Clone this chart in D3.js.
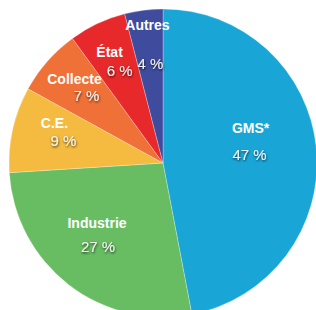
<!DOCTYPE html>
<html>
<head>
<meta charset="utf-8">
<script src="https://cdn.jsdelivr.net/npm/d3@7"></script>
<style>
  html, body { margin: 0; padding: 0; background: #fff; overflow: hidden; }
  svg { display: block; }
  .name { font-family: "Liberation Sans", Arial, sans-serif; font-weight: bold; font-size: 14px; fill: #fff; }
  .pct { font-family: "Liberation Sans", Arial, sans-serif; font-size: 15px; fill: #f2f2f2; }
</style>
</head>
<body>
<div id="chart"></div>
<script>
// Répartition (%)
const categories = ['GMS*', 'Industrie', 'C.E.', 'Collecte', 'État', 'Autres'];
const values = [47, 27, 9, 7, 6, 4];
const colors = ['#19a6d7', '#68bd63', '#f4bb40', '#f07137', '#e8292b', '#3f4c9e'];

const width = 316, height = 310;
const cx = 163, cy = 163, radius = 154;

// label placement: radius for the percentage, offset of the name line
const labelLayout = {
  'GMS*':      { r: 87,  nameDx: 1,   nameDy: -27 },
  'Industrie': { r: 106, nameDx: -1,  nameDy: -24 },
  'C.E.':      { r: 102, nameDx: -9,  nameDy: -18 },
  'Collecte':  { r: 102, nameDx: -12, nameDy: -17 },
  'État':      { r: 102, nameDx: -10, nameDy: -19 },
  'Autres':    { r: 100, nameDx: -3,  nameDy: -39 }
};

const data = categories.map((c, i) => ({ name: c, value: values[i], color: colors[i] }));

const svg = d3.select('#chart').append('svg')
  .attr('width', width)
  .attr('height', height);

const defs = svg.append('defs');
const shadow = defs.append('filter').attr('id', 'txtShadow')
  .attr('x', '-20%').attr('y', '-30%').attr('width', '140%').attr('height', '160%');
shadow.append('feDropShadow')
  .attr('dx', 0.5).attr('dy', 1.2).attr('stdDeviation', 0.9)
  .attr('flood-color', '#000').attr('flood-opacity', 0.75);

const g = svg.append('g').attr('transform', `translate(${cx},${cy})`);

const pie = d3.pie().value(d => d.value).sort(null);
const arc = d3.arc().innerRadius(0).outerRadius(radius);
const arcs = pie(data);

g.selectAll('path.slice')
  .data(arcs)
  .join('path')
  .attr('class', 'slice')
  .attr('d', arc)
  .attr('fill', d => d.data.color)
  .attr('stroke', 'rgba(255,255,255,0.45)')
  .attr('stroke-width', 0.6);

const labels = g.selectAll('g.label')
  .data(arcs)
  .join('g')
  .attr('class', 'label')
  .attr('transform', d => {
    const lay = labelLayout[d.data.name];
    const p = d3.arc().innerRadius(lay.r).outerRadius(lay.r).centroid(d);
    return `translate(${p[0]},${p[1]})`;
  });

labels.append('text')
  .attr('class', 'pct')
  .attr('text-anchor', 'middle')
  .attr('dy', '0.36em')
  .attr('filter', 'url(#txtShadow)')
  .text(d => `${d.data.value} %`);

labels.append('text')
  .attr('class', 'name')
  .attr('text-anchor', 'middle')
  .attr('x', d => labelLayout[d.data.name].nameDx)
  .attr('y', d => labelLayout[d.data.name].nameDy)
  .attr('dy', '0.36em')
  .text(d => d.data.name);
</script>
</body>
</html>
